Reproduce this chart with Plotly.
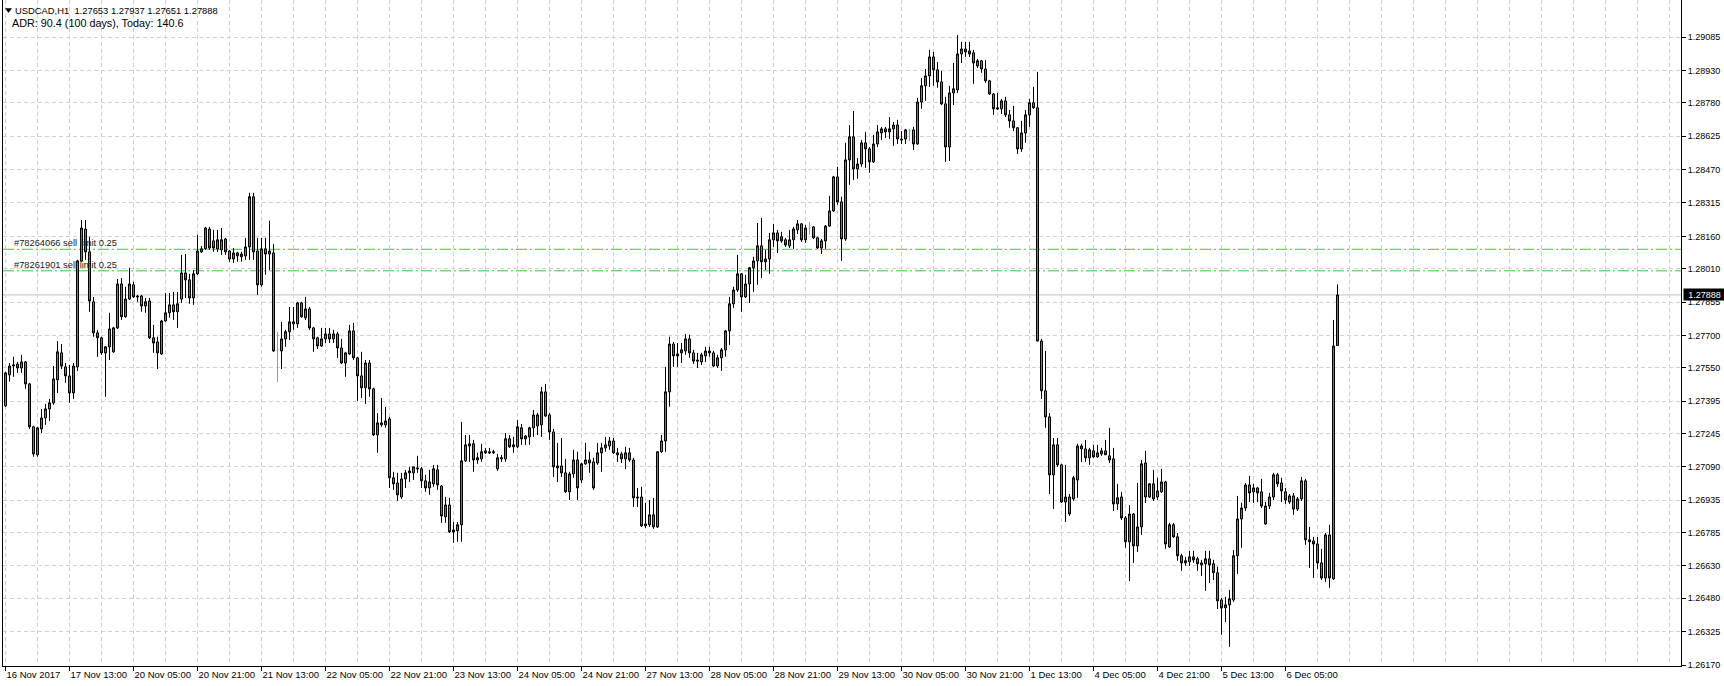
import pandas as pd
import plotly.graph_objects as go

# ---------------- data ----------------
symbol = "USDCAD,H1"
adr_text = "ADR: 90.4 (100 days), Today: 140.6"
first_bar = "2017-11-16 21:00"
last_bar = "2017-12-06 18:00"

open_ = [1.27373,1.27517,1.27558,1.27567,1.27549,1.27577,1.27475,1.27276,1.27146,1.27266,
1.27317,1.27359,1.27387,1.27494,1.27619,1.27554,1.27512,1.27433,1.27554,1.28046,
1.28194,1.28088,1.27856,1.27712,1.27689,1.27619,1.27647,1.27624,1.27735,1.27939,
1.27787,1.27869,1.27935,1.27883,1.27883,1.27837,1.27860,1.27689,1.27670,1.27614,
1.27767,1.27805,1.27842,1.27810,1.27869,1.27990,1.27958,1.27874,1.27986,1.28088,
1.28102,1.28194,1.28139,1.28102,1.28097,1.28148,1.28092,1.28055,1.28083,1.28065,
1.28069,1.28111,1.28344,1.28092,1.27935,1.28102,1.28078,1.28083,1.27633,1.27628,
1.27684,1.27717,1.27763,1.27754,1.27851,1.27782,1.27823,1.27735,1.27689,1.27651,
1.27684,1.27707,1.27684,1.27707,1.27642,1.27572,1.27614,1.27721,1.27596,1.27512,
1.27457,1.27572,1.27452,1.27238,1.27285,1.27285,1.27312,1.27039,1.27015,1.26950,
1.27034,1.27062,1.27062,1.27085,1.27081,1.27025,1.26992,1.27011,1.27076,1.27001,
1.26858,1.26913,1.26797,1.26793,1.26821,1.27118,1.27187,1.27197,1.27122,1.27127,
1.27164,1.27160,1.27155,1.27081,1.27127,1.27127,1.27220,1.27183,1.27183,1.27271,
1.27220,1.27229,1.27271,1.27280,1.27285,1.27438,1.27331,1.27252,1.27094,1.27094,
1.27062,1.26974,1.27057,1.27122,1.27029,1.27104,1.27122,1.27113,1.27108,1.27155,
1.27178,1.27187,1.27210,1.27155,1.27150,1.27127,1.27155,1.27122,1.26950,1.26950,
1.26825,1.26821,1.26867,1.26811,1.27160,1.27210,1.27438,1.27660,1.27614,1.27619,
1.27628,1.27684,1.27619,1.27586,1.27577,1.27605,1.27628,1.27619,1.27558,1.27596,
1.27633,1.27721,1.27847,1.27911,1.27986,1.27879,1.27939,1.28014,1.28046,1.28116,
1.28042,1.28055,1.28144,1.28176,1.28158,1.28144,1.28116,1.28144,1.28190,1.28218,
1.28144,1.28199,1.28204,1.28153,1.28106,1.28139,1.28208,1.28278,1.28436,1.28320,
1.28148,1.28515,1.28622,1.28473,1.28496,1.28594,1.28566,1.28506,1.28589,1.28640,
1.28659,1.28645,1.28659,1.28677,1.28612,1.28612,1.28654,1.28654,1.28589,1.28784,
1.28859,1.28905,1.28993,1.28933,1.28877,1.28775,1.28575,1.28826,1.28840,1.29007,
1.29030,1.29021,1.29012,1.28951,1.28975,1.28937,1.28882,1.28821,1.28757,1.28752,
1.28789,1.28724,1.28696,1.28664,1.28566,1.28640,1.28724,1.28780,1.28757,1.27674,
1.27443,1.27322,1.27053,1.27192,1.27099,1.26927,1.26950,1.26941,1.27029,1.27173,
1.27173,1.27132,1.27164,1.27136,1.27150,1.27164,1.27141,1.27127,1.26918,1.26950,
1.26853,1.26742,1.26871,1.26723,1.26811,1.27108,1.26950,1.27011,1.26950,1.26974,
1.27020,1.26718,1.26821,1.26765,1.26677,1.26644,1.26649,1.26672,1.26663,1.26644,
1.26640,1.26663,1.26640,1.26598,1.26472,1.26435,1.26449,1.26472,1.26677,1.26848,
1.26899,1.27006,1.26974,1.26992,1.26974,1.26825,1.26908,1.26950,1.27053,1.27015,
1.26974,1.26927,1.26955,1.26894,1.26941,1.27025,1.26751,1.26746,1.26732,1.26644,
1.26574,1.26774,1.26570,1.27653]

high = [1.27531,1.27572,1.27601,1.27577,1.27610,1.27581,1.27480,1.27280,1.27276,1.27359,
1.27382,1.27405,1.27558,1.27674,1.27660,1.27572,1.27563,1.27572,1.28051,1.28236,
1.28236,1.28158,1.27879,1.27726,1.27694,1.27651,1.27805,1.27740,1.27962,1.27967,
1.27926,1.28014,1.27949,1.27888,1.27888,1.27874,1.27874,1.27749,1.27694,1.27772,
1.27897,1.27897,1.27902,1.27902,1.28074,1.28078,1.27986,1.28004,1.28167,1.28116,
1.28204,1.28204,1.28190,1.28190,1.28199,1.28153,1.28097,1.28106,1.28088,1.28088,
1.28153,1.28362,1.28362,1.28153,1.28153,1.28153,1.28232,1.28125,1.27717,1.27763,
1.27726,1.27832,1.27832,1.27856,1.27856,1.27879,1.27832,1.27740,1.27694,1.27735,
1.27735,1.27735,1.27726,1.27717,1.27684,1.27624,1.27749,1.27758,1.27601,1.27624,
1.27586,1.27586,1.27457,1.27340,1.27410,1.27368,1.27322,1.27067,1.27062,1.27062,
1.27076,1.27090,1.27090,1.27141,1.27090,1.27053,1.27076,1.27099,1.27099,1.27006,
1.26950,1.26946,1.26834,1.26834,1.27299,1.27238,1.27238,1.27215,1.27155,1.27197,
1.27178,1.27178,1.27169,1.27150,1.27146,1.27247,1.27238,1.27229,1.27308,1.27289,
1.27238,1.27276,1.27354,1.27340,1.27461,1.27475,1.27340,1.27266,1.27201,1.27224,
1.27127,1.27067,1.27169,1.27160,1.27108,1.27201,1.27160,1.27132,1.27201,1.27201,
1.27229,1.27229,1.27224,1.27178,1.27160,1.27183,1.27178,1.27132,1.26992,1.26997,
1.26923,1.26936,1.26946,1.27160,1.27238,1.27554,1.27694,1.27670,1.27665,1.27665,
1.27707,1.27703,1.27633,1.27619,1.27619,1.27647,1.27647,1.27628,1.27610,1.27642,
1.27726,1.27879,1.27926,1.28074,1.27990,1.27981,1.28018,1.28065,1.28222,1.28246,
1.28097,1.28176,1.28218,1.28190,1.28181,1.28153,1.28190,1.28204,1.28236,1.28222,
1.28213,1.28227,1.28208,1.28158,1.28148,1.28213,1.28348,1.28441,1.28483,1.28344,
1.28594,1.28677,1.28742,1.28524,1.28608,1.28645,1.28575,1.28631,1.28677,1.28668,
1.28668,1.28714,1.28691,1.28701,1.28649,1.28659,1.28659,1.28668,1.28803,1.28895,
1.28937,1.29026,1.29016,1.28970,1.28928,1.28808,1.28859,1.28965,1.29095,1.29063,
1.29063,1.29063,1.29026,1.28984,1.28979,1.28979,1.28886,1.28826,1.28826,1.28798,
1.28808,1.28747,1.28766,1.28668,1.28696,1.28747,1.28798,1.28854,1.28924,1.27684,
1.27628,1.27340,1.27224,1.27224,1.27104,1.27099,1.26964,1.27048,1.27197,1.27197,
1.27215,1.27178,1.27192,1.27192,1.27178,1.27215,1.27271,1.27178,1.27011,1.26974,
1.26862,1.26913,1.26876,1.27015,1.27122,1.27164,1.27015,1.27076,1.27039,1.27081,
1.27025,1.26830,1.26830,1.26783,1.26686,1.26672,1.26700,1.26700,1.26672,1.26658,
1.26700,1.26700,1.26658,1.26626,1.26481,1.26486,1.26519,1.26704,1.26955,1.26923,
1.27015,1.27048,1.27011,1.26997,1.27034,1.26927,1.26969,1.27062,1.27062,1.27039,
1.26992,1.26964,1.26969,1.26950,1.27043,1.27034,1.26811,1.26765,1.26765,1.26709,
1.26783,1.26821,1.27772,1.27937]

low = [1.27369,1.27485,1.27508,1.27526,1.27526,1.27452,1.27266,1.27137,1.27137,1.27247,
1.27285,1.27303,1.27378,1.27433,1.27544,1.27480,1.27387,1.27405,1.27535,1.28042,
1.28051,1.27810,1.27694,1.27601,1.27610,1.27415,1.27586,1.27619,1.27730,1.27772,
1.27782,1.27865,1.27874,1.27856,1.27810,1.27805,1.27684,1.27619,1.27544,1.27610,
1.27763,1.27782,1.27772,1.27735,1.27851,1.27874,1.27847,1.27842,1.27981,1.28083,
1.28097,1.28097,1.28088,1.28088,1.28074,1.28074,1.28042,1.28037,1.28042,1.28042,
1.28051,1.28051,1.28051,1.27888,1.27926,1.27981,1.28004,1.27624,1.27485,1.27544,
1.27647,1.27679,1.27726,1.27735,1.27782,1.27772,1.27726,1.27624,1.27637,1.27647,
1.27665,1.27665,1.27665,1.27596,1.27567,1.27508,1.27610,1.27586,1.27396,1.27410,
1.27382,1.27415,1.27233,1.27155,1.27276,1.27271,1.26992,1.26983,1.26932,1.26941,
1.26992,1.27020,1.27029,1.27062,1.26992,1.26974,1.26960,1.26997,1.26983,1.26830,
1.26830,1.26783,1.26737,1.26742,1.26742,1.27113,1.27113,1.27067,1.27104,1.27113,
1.27150,1.27150,1.27150,1.27071,1.27113,1.27113,1.27178,1.27155,1.27178,1.27192,
1.27192,1.27192,1.27229,1.27238,1.27229,1.27322,1.27215,1.27043,1.27020,1.27043,
1.26969,1.26936,1.27039,1.26936,1.27015,1.27099,1.27062,1.26983,1.27099,1.27067,
1.27160,1.27169,1.27150,1.27113,1.27108,1.27080,1.27113,1.26904,1.26904,1.26811,
1.26806,1.26811,1.26802,1.26806,1.27155,1.27160,1.27369,1.27554,1.27554,1.27572,
1.27610,1.27596,1.27567,1.27549,1.27563,1.27577,1.27601,1.27554,1.27549,1.27535,
1.27601,1.27656,1.27828,1.27902,1.27810,1.27874,1.27851,1.27902,1.27935,1.27967,
1.28004,1.27986,1.28111,1.28083,1.28130,1.28111,1.28106,1.28102,1.28171,1.28134,
1.28130,1.28167,1.28148,1.28102,1.28078,1.28102,1.28204,1.28274,1.28306,1.28046,
1.28139,1.28399,1.28422,1.28427,1.28483,1.28478,1.28455,1.28501,1.28575,1.28608,
1.28617,1.28612,1.28580,1.28589,1.28589,1.28589,1.28603,1.28561,1.28585,1.28752,
1.28789,1.28854,1.28859,1.28850,1.28770,1.28506,1.28510,1.28770,1.28826,1.28965,
1.28993,1.28993,1.28868,1.28942,1.28919,1.28873,1.28817,1.28724,1.28747,1.28728,
1.28714,1.28664,1.28649,1.28543,1.28552,1.28594,1.28668,1.28752,1.27674,1.27405,
1.27271,1.26964,1.26894,1.27090,1.26922,1.26834,1.26862,1.26932,1.26946,1.27113,
1.27113,1.27099,1.27132,1.27132,1.27141,1.27146,1.27108,1.26885,1.26890,1.26844,
1.26714,1.26560,1.26644,1.26695,1.26774,1.26922,1.26946,1.26932,1.26936,1.26969,
1.26709,1.26714,1.26760,1.26654,1.26607,1.26630,1.26630,1.26644,1.26607,1.26584,
1.26514,1.26551,1.26565,1.26430,1.26310,1.26370,1.26254,1.26463,1.26593,1.26714,
1.26885,1.26927,1.26922,1.26927,1.26899,1.26821,1.26894,1.26936,1.26997,1.26927,
1.26918,1.26918,1.26867,1.26885,1.26932,1.26728,1.26621,1.26574,1.26616,1.26565,
1.26556,1.26528,1.26565,1.27651]

close = [1.27526,1.27558,1.27563,1.27549,1.27577,1.27475,1.27276,1.27150,1.27271,1.27317,
1.27359,1.27387,1.27498,1.27624,1.27558,1.27512,1.27433,1.27558,1.28046,1.28199,
1.28088,1.27860,1.27712,1.27689,1.27619,1.27647,1.27730,1.27735,1.27939,1.27787,
1.27869,1.27939,1.27879,1.27879,1.27837,1.27856,1.27689,1.27665,1.27619,1.27767,
1.27805,1.27842,1.27810,1.27847,1.27990,1.27958,1.27874,1.27986,1.28092,1.28102,
1.28199,1.28106,1.28106,1.28144,1.28144,1.28088,1.28055,1.28083,1.28069,1.28078,
1.28111,1.28344,1.28088,1.27935,1.28102,1.28078,1.28092,1.27628,1.27633,1.27684,
1.27717,1.27763,1.27754,1.27851,1.27787,1.27823,1.27735,1.27684,1.27651,1.27684,
1.27707,1.27684,1.27707,1.27642,1.27572,1.27619,1.27721,1.27596,1.27512,1.27457,
1.27572,1.27452,1.27238,1.27294,1.27294,1.27303,1.27039,1.27011,1.26960,1.27034,
1.27062,1.27071,1.27090,1.27081,1.27025,1.26992,1.27020,1.27081,1.27006,1.26862,
1.26913,1.26788,1.26788,1.26821,1.27118,1.27192,1.27197,1.27122,1.27132,1.27160,
1.27155,1.27155,1.27160,1.27132,1.27132,1.27220,1.27183,1.27192,1.27276,1.27220,
1.27233,1.27271,1.27331,1.27331,1.27438,1.27326,1.27252,1.27090,1.27085,1.27062,
1.26974,1.27057,1.27122,1.26992,1.27104,1.27122,1.27108,1.26992,1.27155,1.27178,
1.27192,1.27210,1.27155,1.27146,1.27127,1.27155,1.27122,1.26946,1.26946,1.26816,
1.26816,1.26867,1.26811,1.27160,1.27210,1.27438,1.27660,1.27605,1.27605,1.27633,
1.27684,1.27619,1.27581,1.27581,1.27610,1.27628,1.27619,1.27558,1.27596,1.27633,
1.27721,1.27847,1.27911,1.27986,1.27879,1.27939,1.28014,1.28046,1.28116,1.28042,
1.28055,1.28144,1.28176,1.28139,1.28139,1.28120,1.28144,1.28194,1.28218,1.28144,
1.28199,1.28199,1.28153,1.28106,1.28139,1.28208,1.28278,1.28436,1.28320,1.28148,
1.28515,1.28622,1.28473,1.28496,1.28594,1.28566,1.28506,1.28589,1.28645,1.28659,
1.28645,1.28659,1.28677,1.28612,1.28608,1.28654,1.28654,1.28589,1.28784,1.28859,
1.28905,1.28993,1.28933,1.28877,1.28775,1.28575,1.28826,1.28845,1.29007,1.29030,
1.29016,1.29007,1.28965,1.28975,1.28937,1.28882,1.28821,1.28752,1.28752,1.28789,
1.28724,1.28696,1.28664,1.28566,1.28640,1.28724,1.28780,1.28757,1.27674,1.27443,
1.27322,1.27053,1.27192,1.27099,1.26927,1.26950,1.26871,1.27039,1.27187,1.27187,
1.27132,1.27169,1.27136,1.27155,1.27164,1.27146,1.27122,1.26918,1.26946,1.26853,
1.26742,1.26871,1.26723,1.26811,1.27104,1.26950,1.27011,1.26941,1.26978,1.27020,
1.26732,1.26821,1.26765,1.26677,1.26644,1.26654,1.26672,1.26658,1.26640,1.26635,
1.26663,1.26635,1.26598,1.26468,1.26435,1.26449,1.26477,1.26677,1.26848,1.26899,
1.27006,1.26969,1.26992,1.26969,1.26908,1.26908,1.26950,1.27053,1.27011,1.26978,
1.26936,1.26955,1.26894,1.26941,1.27025,1.26751,1.26742,1.26732,1.26644,1.26574,
1.26774,1.26574,1.27651,1.27888]

price_ticks = [1.29085, 1.28930, 1.28780, 1.28625, 1.28470, 1.28315, 1.28160, 1.28010,
               1.27855, 1.27700, 1.27550, 1.27395, 1.27245, 1.27090, 1.26935, 1.26785,
               1.26630, 1.26480, 1.26325, 1.26170]

order_labels = ["#78264066 sell limit 0.25", "#78261901 sell limit 0.25"]
order_levels = [1.28100, 1.28000]

# ---------------- time axis ----------------
hours = pd.date_range(first_bar, last_bar, freq="h")
times = [t for t in hours if t.dayofweek < 5]
n = len(times)
xs = list(range(n))

label_idx = list(range(0, n, 16))
label_txt = []
for k in label_idx:
    t = times[k]
    if k == 0:
        label_txt.append(f"{t.day} {t.strftime('%b %Y')}")
    else:
        label_txt.append(f"{t.day} {t.strftime('%b %H:%M')}")
grid_minor = [v for v in range(0, 420, 8) if v not in label_idx]

# ---------------- geometry / style ----------------
W, H = 1724, 686
PL, PR, PT, PB = 3, 1681, 0, 666
PX_PER_UNIT = 21540.0
Y_HI = 1.26170 + 665 / PX_PER_UNIT
Y_LO = 1.26170 - 1 / PX_PER_UNIT
X_LO, X_HI = -0.625, 418.875

BULL = "#3a9a6a"
BEAR = "#e8521c"
DOJI = "#00ff00"
ORDER = "#32cd32"
GRID = "#d2d2d2"
FONT = "Liberation Sans"


def fx(px):
    return (px - PL) / (PR - PL)


def fy(py):
    return 1 - (py - PT) / (PB - PT)


is_doji = [o == c for o, c in zip(open_, close)]
main_idx = [i for i in xs if not is_doji[i]]
doji_idx = [i for i in xs if is_doji[i]]

fig = go.Figure()
fig.add_trace(go.Candlestick(
    x=main_idx,
    open=[open_[i] for i in main_idx], high=[high[i] for i in main_idx],
    low=[low[i] for i in main_idx], close=[close[i] for i in main_idx],
    increasing=dict(line=dict(color="black", width=1), fillcolor=BULL),
    decreasing=dict(line=dict(color="black", width=1), fillcolor=BEAR),
    whiskerwidth=0, hoverinfo="skip", showlegend=False,
))

# doji bars (open == close) are drawn as lime crosses, like the terminal does
dx, dy = [], []
for i in doji_idx:
    dx += [i, i, None, i - 0.25, i + 0.25, None]
    dy += [low[i], high[i], None, open_[i], open_[i], None]
fig.add_trace(go.Scatter(x=dx, y=dy, mode="lines", line=dict(color=DOJI, width=1),
                         hoverinfo="skip", showlegend=False))

shapes = []
shapes.append(dict(type="line", xref="paper", yref="y", x0=0, x1=1,
                   y0=close[-1], y1=close[-1], layer="between",
                   line=dict(color="#c0c0c0", width=1)))
for lvl in order_levels:
    shapes.append(dict(type="line", xref="paper", yref="y", x0=0, x1=1,
                       y0=lvl, y1=lvl, layer="between",
                       line=dict(color=ORDER, width=1, dash="11px,3px,2px,3px")))
tri = [(5.5, 8.5), (11.5, 8.5), (8.5, 12.5)]
path = "M " + " L ".join(f"{fx(a):.6f},{fy(b):.6f}" for a, b in tri) + " Z"
shapes.append(dict(type="path", xref="paper", yref="paper", path=path,
                   fillcolor="black", line=dict(color="black", width=0.5)))

annotations = []
header = f"{symbol}  {open_[-1]:.5f} {high[-1]:.5f} {low[-1]:.5f} {close[-1]:.5f}"
annotations.append(dict(text=header, xref="paper", yref="paper", x=fx(13), y=fy(10.5),
                        xanchor="left", yanchor="middle", showarrow=False,
                        font=dict(family=FONT, size=9.4, color="black")))
annotations.append(dict(text=adr_text, xref="paper", yref="paper", x=fx(10), y=fy(22.8),
                        xanchor="left", yanchor="middle", showarrow=False,
                        font=dict(family=FONT, size=10.8, color="black")))
for txt, lvl in zip(order_labels, order_levels):
    annotations.append(dict(text=txt, xref="paper", yref="y", x=fx(12), y=lvl,
                            xanchor="left", yanchor="middle", yshift=6, showarrow=False,
                            font=dict(family=FONT, size=9.3, color="#202020")))
annotations.append(dict(text=f"{close[-1]:.5f}", xref="paper", yref="y",
                        x=fx(1683), y=close[-1], xanchor="left", yanchor="middle",
                        showarrow=False, bgcolor="black", width=40, height=10,
                        borderpad=0.5, align="center",
                        font=dict(family=FONT, size=9, color="white")))

fig.update_layout(
    width=W, height=H,
    margin=dict(l=PL, r=W - PR, t=PT, b=H - PB, pad=0),
    paper_bgcolor="white", plot_bgcolor="white",
    font=dict(family=FONT, size=9, color="black"),
    showlegend=False, hovermode=False,
    boxgap=0.5, boxgroupgap=0,
    shapes=shapes, annotations=annotations,
    xaxis=dict(
        range=[X_LO, X_HI], autorange=False, rangeslider=dict(visible=False),
        tickmode="array", tickvals=label_idx, ticktext=label_txt, tickangle=0,
        ticks="outside", ticklen=4, tickcolor="black", tickwidth=1,
        ticklabelposition="outside right",
        tickfont=dict(family=FONT, size=9.5, color="black"),
        showline=True, linecolor="black", linewidth=1, mirror=False,
        showgrid=True, gridcolor=GRID, gridwidth=1, griddash="4px,3px",
        minor=dict(tickmode="array", tickvals=grid_minor, showgrid=True,
                   gridcolor=GRID, gridwidth=1, griddash="4px,3px", ticks=""),
        zeroline=False, fixedrange=True,
    ),
    yaxis=dict(
        range=[Y_LO, Y_HI], autorange=False, side="right",
        tickmode="array", tickvals=price_ticks, ticktext=[f"{v:.5f}" for v in price_ticks],
        ticks="outside", ticklen=4, tickcolor="black", tickwidth=1,
        tickfont=dict(family=FONT, size=9, color="black"),
        showline=True, linecolor="black", linewidth=1, mirror=True,
        showgrid=True, gridcolor=GRID, gridwidth=1, griddash="4px,3px",
        zeroline=False, fixedrange=True,
    ),
)

fig.write_html("out.html",
               config={"displayModeBar": False, "staticPlot": True},
               post_script="document.body.style.margin='0';document.body.style.overflow='hidden';")
